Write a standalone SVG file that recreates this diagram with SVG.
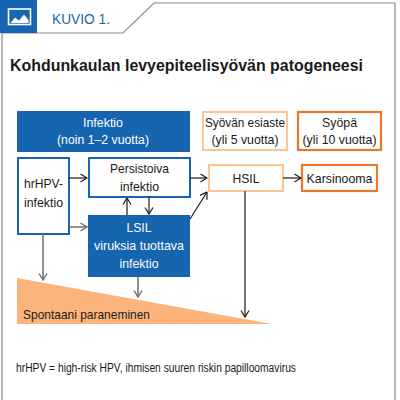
<svg xmlns="http://www.w3.org/2000/svg" width="400" height="400" viewBox="0 0 400 400">
<style>
text{font-family:"Liberation Sans",Arial,sans-serif;font-size:13.5px;text-anchor:middle;fill:#1a1a1a}
.w{fill:#fff}
.bbox{fill:#fff;stroke:#1565b0;stroke-width:2}
.lo{fill:#fff;stroke:#f8c595;stroke-width:2}
.do{fill:#fff;stroke:#e8792b;stroke-width:2.2}
.ak{stroke:#1a1a1a;stroke-width:1.2;fill:none}
.ag{stroke:#6e6e6e;stroke-width:1.5;fill:none}
</style>
<defs>
<marker id="mk" viewBox="0 0 8 10" refX="7.5" refY="5" markerWidth="8" markerHeight="10" markerUnits="userSpaceOnUse" orient="auto">
<path d="M1,1 L7.5,5 L1,9" fill="none" stroke="#1a1a1a" stroke-width="1.2"/>
</marker>
<marker id="mg" viewBox="0 0 8 10" refX="7.5" refY="5" markerWidth="8" markerHeight="10" markerUnits="userSpaceOnUse" orient="auto">
<path d="M1,1 L7.5,5 L1,9" fill="none" stroke="#6e6e6e" stroke-width="1.4"/>
</marker>
</defs>
<rect width="400" height="400" fill="#fff"/>
<g id="frame">
<path d="M2,400 L2,33 L123,33 L154,3 L395,3 L395,400" fill="none" stroke="#8a8a8a" stroke-width="1.2"/>
<rect x="0" y="0" width="37" height="33" fill="#1565b0"/>
<rect x="8.5" y="9" width="22" height="15.5" fill="none" stroke="#fff" stroke-width="1.6"/>
<path d="M10.5,23 L15,17.5 L19,20.5 L24,14.5 L28.5,20 L28.5,23 Z" fill="#fff"/>
<text x="52" y="24" style="text-anchor:start;font-size:15px;fill:#1565b0" textLength="58" lengthAdjust="spacingAndGlyphs">KUVIO 1.</text>
<text x="10" y="71" style="text-anchor:start;font-size:16.5px;font-weight:bold" textLength="353" lengthAdjust="spacingAndGlyphs">Kohdunkaulan levyepiteelisyövän patogeneesi</text>
</g>
<g id="spontaani">
<path d="M17,278 L272,324 L17,324 Z" fill="#fbb47c"/>
<text x="23" y="319" style="text-anchor:start" textLength="127" lengthAdjust="spacingAndGlyphs">Spontaani paraneminen</text>
</g>
<g id="infektio-header">
<rect x="17" y="111" width="173" height="41" fill="#1565b0"/>
<text class="w" x="103" y="127" textLength="40" lengthAdjust="spacingAndGlyphs">Infektio</text>
<text class="w" x="103" y="144" textLength="92" lengthAdjust="spacingAndGlyphs">(noin 1–2 vuotta)</text>
</g>
<g id="esiaste-header">
<rect class="lo" x="203" y="112" width="84" height="38"/>
<text x="245" y="127" textLength="80" lengthAdjust="spacingAndGlyphs">Syövän esiaste</text>
<text x="245" y="144" textLength="67" lengthAdjust="spacingAndGlyphs">(yli 5 vuotta)</text>
</g>
<g id="syopa-header">
<rect class="do" x="298" y="112" width="83" height="38"/>
<text x="339.5" y="127" textLength="35" lengthAdjust="spacingAndGlyphs">Syöpä</text>
<text x="339.5" y="144" textLength="74" lengthAdjust="spacingAndGlyphs">(yli 10 vuotta)</text>
</g>
<g id="hrhpv">
<rect class="bbox" x="18" y="158" width="51" height="76"/>
<text x="43.5" y="188" textLength="39" lengthAdjust="spacingAndGlyphs">hrHPV-</text>
<text x="43.5" y="207" textLength="39" lengthAdjust="spacingAndGlyphs">infektio</text>
</g>
<g id="persistoiva">
<rect class="bbox" x="89" y="158" width="101" height="39"/>
<text x="139.5" y="173" textLength="59" lengthAdjust="spacingAndGlyphs">Persistoiva</text>
<text x="139.5" y="191" textLength="39" lengthAdjust="spacingAndGlyphs">infektio</text>
</g>
<g id="lsil">
<rect x="88" y="215" width="102" height="62" fill="#1565b0"/>
<text class="w" x="139" y="232" textLength="25" lengthAdjust="spacingAndGlyphs">LSIL</text>
<text class="w" x="139" y="250" textLength="90" lengthAdjust="spacingAndGlyphs">viruksia tuottava</text>
<text class="w" x="139" y="268" textLength="39" lengthAdjust="spacingAndGlyphs">infektio</text>
</g>
<g id="hsil">
<rect class="lo" x="209" y="165" width="74" height="26"/>
<text x="246" y="183" textLength="27" lengthAdjust="spacingAndGlyphs">HSIL</text>
</g>
<g id="karsinooma">
<rect class="do" x="302" y="165" width="75" height="26"/>
<text x="339.5" y="183" textLength="66" lengthAdjust="spacingAndGlyphs">Karsinooma</text>
</g>
<g id="connectors">
<line class="ak" x1="69" y1="178" x2="87" y2="178" marker-end="url(#mk)"/>
<line class="ag" x1="69" y1="227" x2="87" y2="227" marker-end="url(#mg)"/>
<line class="ak" x1="127" y1="215" x2="127" y2="198" marker-end="url(#mk)"/>
<line class="ak" x1="149" y1="197" x2="149" y2="214" marker-end="url(#mk)"/>
<line class="ak" x1="190" y1="178" x2="207" y2="178" marker-end="url(#mk)"/>
<line class="ak" x1="190" y1="219" x2="207" y2="192" marker-end="url(#mk)"/>
<line class="ak" x1="283" y1="178" x2="301" y2="178" marker-end="url(#mk)"/>
<line class="ag" x1="43" y1="234" x2="43" y2="280" marker-end="url(#mg)"/>
<line class="ag" x1="138" y1="277" x2="138" y2="297" marker-end="url(#mg)"/>
<line class="ak" x1="245" y1="191" x2="245" y2="317" marker-end="url(#mk)"/>
</g>
<g id="footnote">
<text x="16" y="372" style="text-anchor:start;font-size:12px" textLength="280" lengthAdjust="spacingAndGlyphs">hrHPV = high-risk HPV, ihmisen suuren riskin papilloomavirus</text>
</g>
</svg>
